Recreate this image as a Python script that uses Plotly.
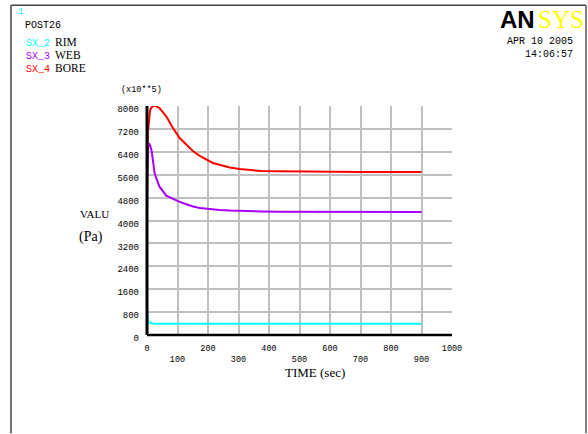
import plotly.graph_objects as go

# ---- data (values in units of 1e5 Pa) ----
time_s = [0, 1, 3, 6, 10, 15, 20, 25, 30, 41, 63, 85, 107, 129, 151, 173, 195, 216,
          238, 271, 304, 337, 375, 435, 523, 566, 700, 900]
bore = [5700, 6800, 7100, 7400, 7850, 7950, 8000, 8010, 7990, 7930, 7640, 7230, 6880,
        6650, 6420, 6260, 6120, 6010, 5945, 5850, 5800, 5770, 5725, 5720, 5705, 5690,
        5690, 5690]
web = [4430, 5700, 6500, 6700, 6620, 6450, 6000, 5650, 5490, 5180, 4870, 4750, 4650,
       4570, 4490, 4440, 4410, 4385, 4370, 4345, 4330, 4320, 4315, 4305, 4300, 4300,
       4300, 4300]
rim = [890, 560, 480, 450, 430, 420, 405, 395, 390, 390, 390, 390, 390, 390, 390, 390,
       390, 390, 390, 390, 390, 390, 390, 390, 390, 390, 390, 390]

x_ticks = list(range(0, 1001, 100))
x_ticktext = [str(v) if (v // 100) % 2 == 0 else "<br>" + str(v) for v in x_ticks]
y_ticks = list(range(0, 8001, 800))
y_ticktext = [str(v) for v in y_ticks]

series = [("SX_2", "RIM", rim, "#00ffff"),
          ("SX_3", "WEB", web, "#a800ff"),
          ("SX_4", "BORE", bore, "#ff0000")]

W, H = 588, 434
L, R, T, B = 147, 452, 106, 335.5

def px(xp):
    return (xp - L) / (R - L)

def py(yp):
    return (B - yp) / (B - T)

MONO = "Liberation Mono"
SERIF = "Liberation Serif"

fig = go.Figure()
for code, name, vals, col in series:
    fig.add_trace(go.Scatter(x=time_s, y=vals, mode="lines", name=name,
                             line=dict(color=col, width=2), showlegend=False))

fig.update_layout(
    width=W, height=H, autosize=False,
    margin=dict(l=L, r=W - R, t=T, b=H - B, pad=0),
    paper_bgcolor="white", plot_bgcolor="white",
    xaxis=dict(range=[0, 1000], tickvals=x_ticks, ticktext=x_ticktext,
               showgrid=True, gridcolor="#c0c0c0", gridwidth=1.5,
               zeroline=False, showline=False, ticks="", ticklabelstandoff=6,
               tickfont=dict(family=MONO, size=8.5, color="black")),
    yaxis=dict(range=[0, 8000], tickvals=y_ticks, ticktext=y_ticktext,
               showgrid=True, gridcolor="#c0c0c0", gridwidth=1.5,
               zeroline=False, showline=False, ticks="", ticklabelshift=3,
               ticklabelstandoff=7,
               tickfont=dict(family=MONO, size=9, color="black")),
)

shapes = [
    # frame of page
    dict(type="line", xref="paper", yref="paper", x0=px(11), x1=px(586), y0=py(5), y1=py(5),
         line=dict(color="#404040", width=1.5)),
    dict(type="line", xref="paper", yref="paper", x0=px(11), x1=px(11), y0=py(5), y1=py(434),
         line=dict(color="#404040", width=1.5)),
    dict(type="line", xref="paper", yref="paper", x0=px(586), x1=px(586), y0=py(5), y1=py(434),
         line=dict(color="#808080", width=2)),
    # axes
    dict(type="line", xref="paper", yref="paper", x0=0, x1=1, y0=0, y1=0,
         line=dict(color="black", width=2.5)),
    dict(type="line", xref="paper", yref="paper", x0=0, x1=0, y0=0, y1=1,
         line=dict(color="black", width=3)),
]
fig.update_layout(shapes=shapes)

ann = []
def text(x, y, s, size, color="black", family=MONO, xanchor="left", yanchor="middle"):
    ann.append(dict(x=px(x), y=py(y), xref="paper", yref="paper", text=s, showarrow=False,
                    xanchor=xanchor, yanchor=yanchor,
                    font=dict(family=family, size=size, color=color)))

text(16, 12, "1", 9, color="#00ffff")
text(23, 25, "POST26", 10)
for i, (code, name, vals, col) in enumerate(series):
    yy = 43 + i * 13
    text(24, yy, code, 10, color=col)
    text(53, yy - 1, name, 11.5, family=SERIF)

# ANSYS logo
text(537, 19, "<b>AN</b>", 24, family="Liberation Sans", xanchor="right")
text(536, 19, "SYS", 25, color="#ffff00", family=SERIF)
text(575, 41, "APR 10 2005", 10, xanchor="right")
text(575, 54, "14:06:57", 10, xanchor="right")

text(141, 90, "(x10**5)", 8.5, xanchor="center")
text(94, 214, "VALU", 11, family=SERIF, xanchor="center")
text(91, 237, "(Pa)", 14, family=SERIF, xanchor="center")
text(315, 373, "TIME (sec)", 13, family=SERIF, xanchor="center")

fig.update_layout(annotations=ann)
fig.write_html("out.html")
